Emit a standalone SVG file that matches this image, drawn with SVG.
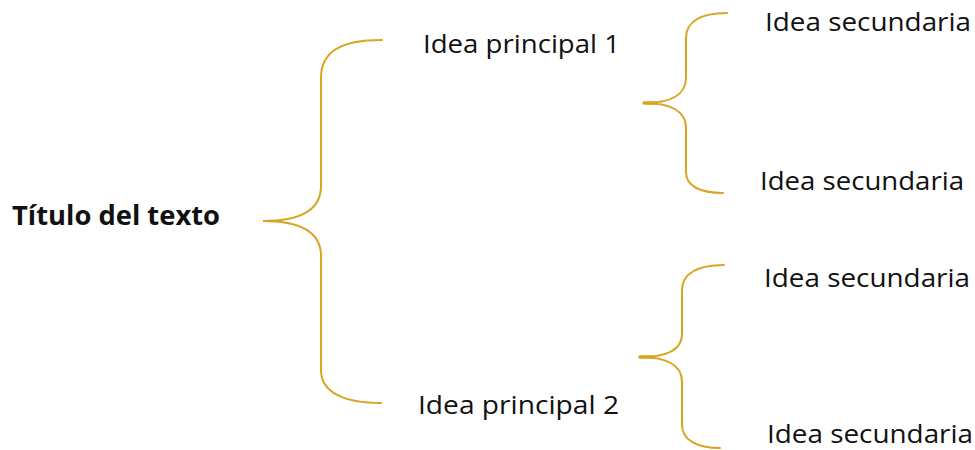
<svg xmlns="http://www.w3.org/2000/svg" width="975" height="450" viewBox="0 0 975 450">
<style>
.br{fill:none;stroke:#D9A420;stroke-width:2;stroke-linecap:round}
.stub{fill:none;stroke:#D9A420;stroke-width:3.5;stroke-linecap:round}
.t{font-family:"Open Sans","Liberation Sans",sans-serif;font-size:26px;fill:#111}
.title{font-family:"Open Sans","Liberation Sans",sans-serif;font-size:26px;font-weight:bold;fill:#111}
</style>
<rect width="975" height="450" fill="#fff"/>
<g id="connectors">
<path class="br" d="M382,40 C340,40 321,52 321,78 L321,186 C321,210 300,221 263,221 C300,221 321,232 321,256 L321,370 C321,393 345,403 381,403"/>
<path class="br" d="M727,13 C700,13 686,22 686,38 L686,78 C686,95 670,103 644,103 C670,103 686,111 686,128 L686,172 C686,186 700,193 723,193"/>
<line class="stub" x1="644" y1="103" x2="656" y2="103"/>
<path class="br" d="M724,265 C697,265 682,274 682,290 L682,334 C682,350 666,357 640,357 C666,357 682,365 682,382 L682,425 C682,440 697,448 720,448"/>
<line class="stub" x1="640" y1="357" x2="652" y2="357"/>
</g>
<g id="title"><text class="title" x="12" y="225" textLength="208" lengthAdjust="spacingAndGlyphs">Título del texto</text></g>
<g id="principal1"><text class="t" x="423" y="53" textLength="197" lengthAdjust="spacingAndGlyphs">Idea principal 1</text></g>
<g id="principal2"><text class="t" x="418" y="414" textLength="201" lengthAdjust="spacingAndGlyphs">Idea principal 2</text></g>
<g id="sec1"><text class="t" x="765" y="31" textLength="206" lengthAdjust="spacingAndGlyphs">Idea secundaria</text></g>
<g id="sec2"><text class="t" x="760" y="190" textLength="204" lengthAdjust="spacingAndGlyphs">Idea secundaria</text></g>
<g id="sec3"><text class="t" x="764" y="287" textLength="206" lengthAdjust="spacingAndGlyphs">Idea secundaria</text></g>
<g id="sec4"><text class="t" x="767" y="443" textLength="206" lengthAdjust="spacingAndGlyphs">Idea secundaria</text></g>
</svg>
